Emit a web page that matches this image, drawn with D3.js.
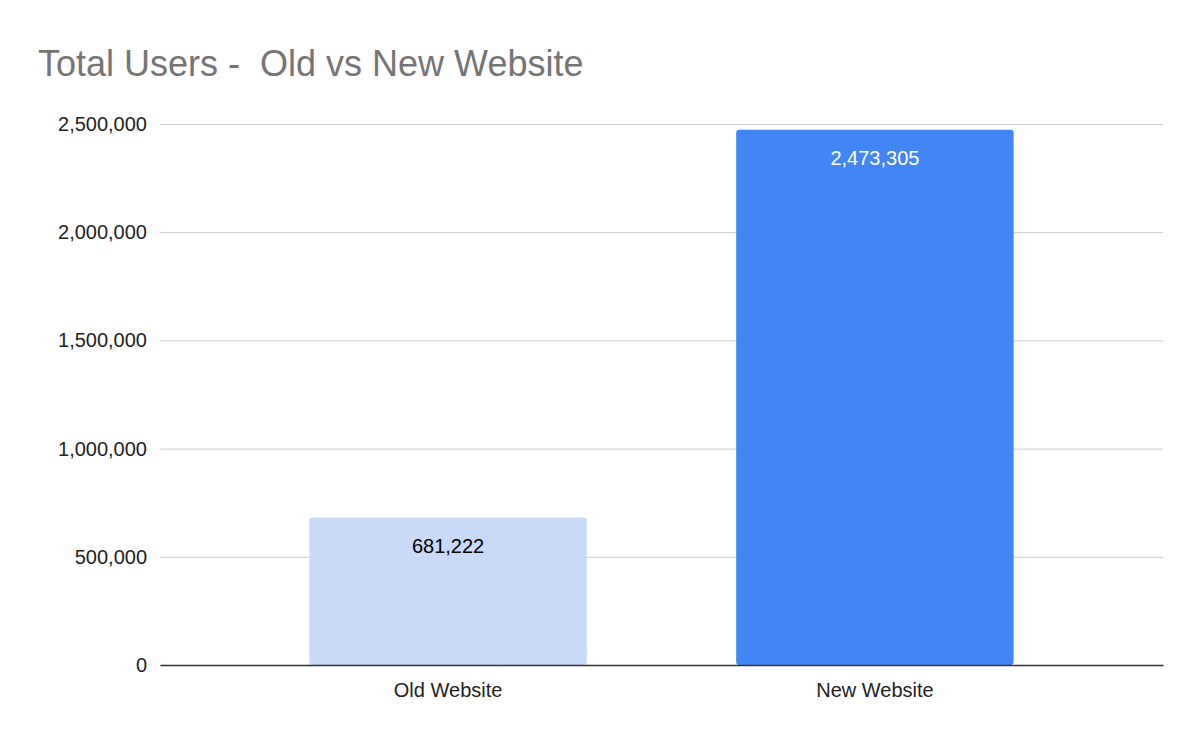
<!DOCTYPE html>
<html>
<head>
<meta charset="utf-8">
<script src="https://cdn.jsdelivr.net/npm/d3@7"></script>
<style>
  body { margin: 0; background: #fff; }
  text { font-family: "Liberation Sans", Arial, sans-serif; white-space: pre; }
</style>
</head>
<body>
<div class="chart__container"></div>
<script>
// data
const CATEGORIES = ["Old Website", "New Website"];
const VALUES = [681222, 2473305];
const BAR_COLORS = ["#c9daf8", "#4285f4"];
const LABEL_COLORS = ["#000000", "#ffffff"];
const Y_TICKS = [0, 500000, 1000000, 1500000, 2000000, 2500000];

const WIDTH = 1200, HEIGHT = 742;
const MARGIN = { top: 124, right: 37, bottom: 77, left: 160 };

const svg = d3.select(".chart__container").append("svg")
    .attr("width", WIDTH).attr("height", HEIGHT);

svg.append("text")
    .attr("x", 38).attr("y", 76)
    .attr("font-size", 36).attr("fill", "#757575")
    .text("Total Users -  Old vs New Website");

const x = d3.scaleBand().domain(CATEGORIES)
    .range([MARGIN.left, WIDTH - MARGIN.right])
    .paddingInner(0.35).paddingOuter(0.35);

const y = d3.scaleLinear().domain([0, 2500000])
    .range([HEIGHT - MARGIN.bottom, MARGIN.top]);

// gridlines + y labels
const yAxis = svg.append("g")
    .attr("transform", `translate(${MARGIN.left},0)`)
    .call(d3.axisLeft(y).tickValues(Y_TICKS).tickFormat(d3.format(","))
        .tickSize(-(WIDTH - MARGIN.left - MARGIN.right)).tickPadding(13));
yAxis.select(".domain").remove();
yAxis.selectAll(".tick line").attr("stroke", "#cccccc");
yAxis.selectAll(".tick text").attr("font-size", 20).attr("fill", "#222");

// bars
svg.selectAll(".bar").data(VALUES).join("rect")
    .attr("class", "bar")
    .attr("x", (d, i) => x(CATEGORIES[i]))
    .attr("y", d => y(d))
    .attr("width", x.bandwidth())
    .attr("height", d => y(0) - y(d))
    .attr("rx", 3)
    .attr("fill", (d, i) => BAR_COLORS[i]);

svg.selectAll(".val").data(VALUES).join("text")
    .attr("x", (d, i) => x(CATEGORIES[i]) + x.bandwidth() / 2)
    .attr("y", d => y(d) + 35)
    .attr("text-anchor", "middle")
    .attr("font-size", 20)
    .attr("fill", (d, i) => LABEL_COLORS[i])
    .text(d => d3.format(",")(d));

// x axis
const xAxis = svg.append("g")
    .attr("transform", `translate(0,${y(0)})`)
    .call(d3.axisBottom(x).tickSize(0).tickPadding(18));
xAxis.select(".domain").attr("stroke", "#333").attr("stroke-width", 1.5);
xAxis.selectAll(".tick text").attr("font-size", 20).attr("fill", "#222");
</script>
</body>
</html>
